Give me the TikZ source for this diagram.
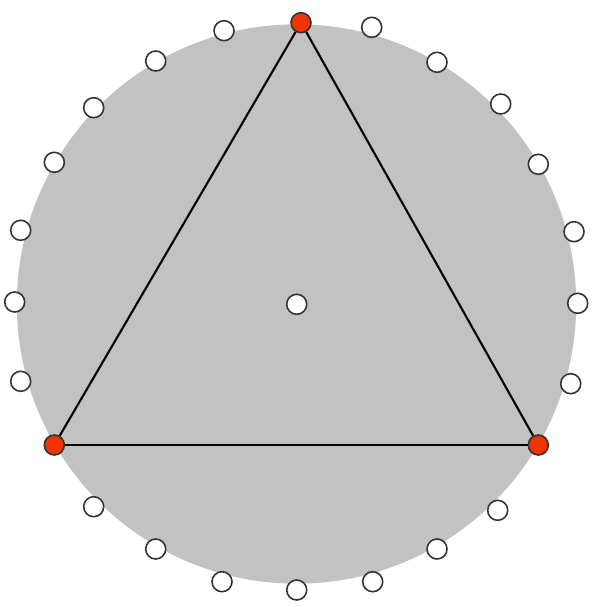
\documentclass[tikz,border=0pt]{standalone}
\usepackage{tikz}
\definecolor{diskgray}{RGB}{194,194,194}
\definecolor{hitred}{RGB}{238,52,0}

\begin{document}
\begin{tikzpicture}[x=0.01cm, y=-0.01cm,
    spot/.style={circle, draw=black!80, line width=0.45pt, fill=white, minimum size=0.2cm, inner sep=0pt},
    hit/.style={spot, fill=hitred}]
     \useasboundingbox (0,0) rectangle (600,607);
     \fill[diskgray] (296.5,304) circle[radius=2.795cm];

    \node[hit] (v1) at (301,22.7) {};
    \node[hit] (v2) at (538.3,445) {};
    \node[hit] (v3) at (54.3,445) {};
    \node[spot] (c) at (296.7,304.3) {};
    \coordinate (foot) at (437,445);

    \node[spot] (p1) at (371.7,27.3) {};
    \node[spot] (p2) at (437,62.3) {};
    \node[spot] (p3) at (500.7,104) {};
    \node[spot] (p4) at (538.3,164.3) {};
    \node[spot] (p5) at (574,231.7) {};
    \node[spot] (p6) at (577.7,303.3) {};
    \node[spot] (p7) at (570.7,383.7) {};
    \node[spot] (p8) at (497.7,510.3) {};
    \node[spot] (p9) at (437,549) {};
    \node[spot] (p10) at (372.7,581.7) {};
    \node[spot] (p11) at (296.7,590) {};
    \node[spot] (p12) at (222,581.7) {};
    \node[spot] (p13) at (155.7,549) {};
    \node[spot] (p14) at (93.7,506.7) {};
    \node[spot] (p15) at (20.7,381.3) {};
    \node[spot] (p16) at (14.7,302) {};
    \node[spot] (p17) at (20.7,230.3) {};
    \node[spot] (p18) at (54.3,162.3) {};
    \node[spot] (p19) at (93.7,107.7) {};
    \node[spot] (p20) at (155.7,61) {};
    \node[spot] (p21) at (224,30.7) {};

     \draw[ultra thin, color=white!15!diskgray] (c) -- (foot);
     \draw[semithick] (v1) -- (v2);
     \draw[semithick] (v2) -- (v3);
     \draw[semithick] (v3) -- (v1);
   \end{tikzpicture}
\end{document}
